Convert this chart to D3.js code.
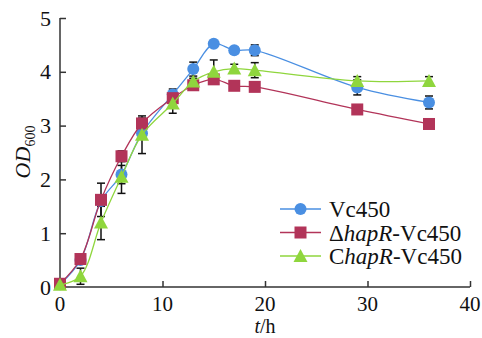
<!DOCTYPE html>
<html>
<head>
<meta charset="utf-8">
<script src="https://cdn.jsdelivr.net/npm/d3@7"></script>
<style>
  body { margin: 0; background: #fff; }
  text { font-family: "Liberation Serif", "Times New Roman", serif; fill: #111; }
</style>
</head>
<body>
<svg id="chart" width="482" height="338"></svg>
<script>
// sampling times (h)
const times = [0, 2, 4, 6, 8, 11, 13, 15, 17, 19, 29, 36]

const vc450 = [0.05, 0.5, 1.6, 2.09, 2.86, 3.58, 4.05, 4.52, 4.4, 4.4, 3.71, 3.43]
const vc450Err = [0.03, 0.05, 0.1, 0.17, 0.1, 0.1, 0.13, 0.05, 0.06, 0.1, 0.14, 0.12]

const hapR = [0.06, 0.52, 1.62, 2.43, 3.04, 3.51, 3.75, 3.86, 3.74, 3.72, 3.3, 3.03]
const hapRErr = [0.03, 0.05, 0.31, 0.1, 0.1, 0.05, 0.05, 0.05, 0.04, 0.04, 0.05, 0.04]

const chapR = [0.04, 0.2, 1.2, 2.05, 2.83, 3.41, 3.82, 4.0, 4.06, 4.03, 3.83, 3.83]
const chapRErr = [0.03, 0.15, 0.32, 0.31, 0.35, 0.18, 0.06, 0.22, 0.08, 0.14, 0.08, 0.08]

const xTicks = [0, 10, 20, 30, 40]
const yTicks = [0, 1, 2, 3, 4, 5]

const series = [
  { name: 'Vc450', pre: '', ital: '', post: 'Vc450', values: vc450, err: vc450Err, color: '#4a8fe2', shape: 'circle' },
  { name: 'ΔhapR-Vc450', pre: 'Δ', ital: 'hapR', post: '-Vc450', values: hapR, err: hapRErr, color: '#b23459', shape: 'square' },
  { name: 'ChapR-Vc450', pre: 'C', ital: 'hapR', post: '-Vc450', values: chapR, err: chapRErr, color: '#8fd63d', shape: 'triangle' }
]

const svg = d3.select('#chart')

const x = d3.scaleLinear().domain([0, 40]).range([60, 470])
const y = d3.scaleLinear().domain([0, 5]).range([287, 18])

// axes (ticks pointing inward)
const xAxis = svg.append('g')
  .attr('transform', `translate(0,${y(0)})`)
  .call(d3.axisTop(x).tickValues(xTicks).tickSize(6).tickFormat(''))
xAxis.select('.domain').attr('d', `M${x(0)},0H${x(40)}`)
xAxis.selectAll('path, line').attr('stroke', '#333').attr('stroke-width', 1.5)

const yAxis = svg.append('g')
  .attr('transform', `translate(${x(0)},0)`)
  .call(d3.axisRight(y).tickValues(yTicks).tickSize(6).tickFormat(''))
yAxis.select('.domain').attr('d', `M0,${y(0)}V${y(5)}`)
yAxis.selectAll('path, line').attr('stroke', '#333').attr('stroke-width', 1.5)

// tick labels
svg.append('g').selectAll('text')
  .data(xTicks).enter().append('text')
  .attr('x', d => x(d))
  .attr('y', 311)
  .attr('text-anchor', 'middle')
  .attr('font-size', 21)
  .text(d => d)

svg.append('g').selectAll('text')
  .data(yTicks).enter().append('text')
  .attr('x', 51)
  .attr('y', d => y(d) + 7.5)
  .attr('text-anchor', 'end')
  .attr('font-size', 22)
  .text(d => d)

// axis titles
const xt = svg.append('text')
  .attr('x', x(20))
  .attr('y', 333)
  .attr('text-anchor', 'middle')
  .attr('font-size', 20)
xt.append('tspan').attr('font-style', 'italic').text('t')
xt.append('tspan').text('/h')

const yt = svg.append('text')
  .attr('transform', 'translate(30,152) rotate(-90)')
  .attr('text-anchor', 'middle')
  .attr('font-size', 22)
yt.append('tspan').attr('font-style', 'italic').text('OD')
yt.append('tspan').attr('font-size', 14).attr('dy', 5).text('600')

// symbol drawing
function drawMarker(g, shape, color, cx, cy) {
  if (shape === 'circle') {
    g.append('circle').attr('cx', cx).attr('cy', cy).attr('r', 6).attr('fill', color)
  } else if (shape === 'square') {
    g.append('rect').attr('x', cx - 6).attr('y', cy - 6).attr('width', 12).attr('height', 12).attr('fill', color)
  } else {
    g.append('path')
      .attr('d', `M${cx},${cy - 7}L${cx + 7},${cy + 6}L${cx - 7},${cy + 6}Z`)
      .attr('fill', color)
  }
}

const line = d3.line()
  .x(d => x(d[0]))
  .y(d => y(d[1]))
  .curve(d3.curveCatmullRom.alpha(0.5))

// error bars
const errG = svg.append('g').attr('stroke', '#111').attr('stroke-width', 1.5)
series.forEach(s => {
  times.forEach((t, i) => {
    const lo = y(s.values[i] - s.err[i])
    const hi = y(s.values[i] + s.err[i])
    const cx = x(t)
    errG.append('line').attr('x1', cx).attr('x2', cx).attr('y1', lo).attr('y2', hi)
    errG.append('line').attr('x1', cx - 4).attr('x2', cx + 4).attr('y1', lo).attr('y2', lo)
    errG.append('line').attr('x1', cx - 4).attr('x2', cx + 4).attr('y1', hi).attr('y2', hi)
  })
})

// lines and markers
series.forEach(s => {
  const g = svg.append('g')
  const pts = times.map((t, i) => [t, s.values[i]])
  g.append('path')
    .attr('d', line(pts))
    .attr('fill', 'none')
    .attr('stroke', s.color)
    .attr('stroke-width', 1.3)
  pts.forEach(p => drawMarker(g, s.shape, s.color, x(p[0]), y(p[1])))
})

// legend
const legend = svg.append('g')
series.forEach((s, i) => {
  const ly = 209 + i * 23.5
  legend.append('line')
    .attr('x1', 280).attr('x2', 321)
    .attr('y1', ly).attr('y2', ly)
    .attr('stroke', s.color).attr('stroke-width', 1.5)
  drawMarker(legend, s.shape, s.color, 300.5, ly)
  const t = legend.append('text')
    .attr('x', 329)
    .attr('y', ly + 8)
    .attr('font-size', 23)
  if (s.pre) t.append('tspan').text(s.pre)
  if (s.ital) t.append('tspan').attr('font-style', 'italic').text(s.ital)
  t.append('tspan').text(s.post)
})
</script>
</body>
</html>
